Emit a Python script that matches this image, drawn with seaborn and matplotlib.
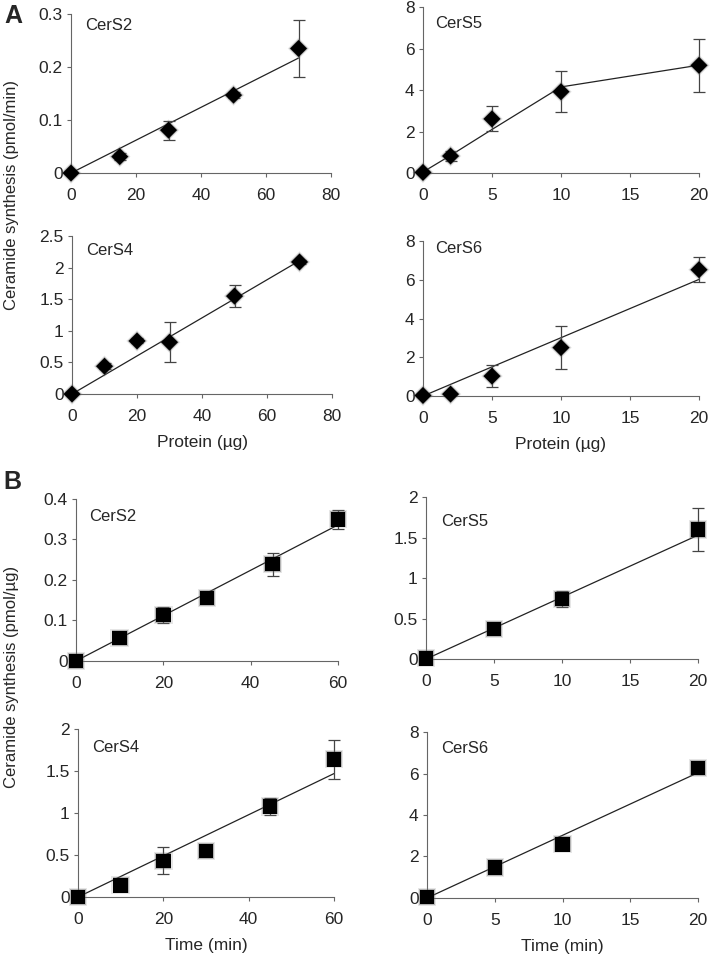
import numpy as np
import pandas as pd
import seaborn as sns
import matplotlib.pyplot as plt
from matplotlib.ticker import FuncFormatter

# ---- data ----
# A: protein titration
a_cers2_x = [0, 15, 30, 50, 70]
a_cers2_y = [0.0, 0.031, 0.081, 0.147, 0.235]
a_cers2_err = [0.0, 0.007, 0.018, 0.006, 0.054]
a_cers2_fit_x = [0, 70]
a_cers2_fit_y = [0.0, 0.217]

a_cers5_x = [0, 2, 5, 10, 20]
a_cers5_y = [0.03, 0.82, 2.61, 3.92, 5.19]
a_cers5_err = [0.0, 0.22, 0.6, 1.0, 1.27]
a_cers5_fit_x = [0, 2, 5, 10, 20]
a_cers5_fit_y = [0.05, 0.85, 2.1, 4.15, 5.2]

a_cers4_x = [0, 10, 20, 30, 50, 70]
a_cers4_y = [0.0, 0.44, 0.84, 0.82, 1.55, 2.09]
a_cers4_err = [0.0, 0.05, 0.04, 0.32, 0.18, 0.03]
a_cers4_fit_x = [0, 70]
a_cers4_fit_y = [0.0, 2.11]

a_cers6_x = [0, 2, 5, 10, 20]
a_cers6_y = [0.03, 0.1, 1.03, 2.5, 6.52]
a_cers6_err = [0.0, 0.0, 0.55, 1.13, 0.65]
a_cers6_fit_x = [0, 20]
a_cers6_fit_y = [0.0, 6.02]

# B: time course
b_cers2_x = [0, 10, 20, 30, 45, 60]
b_cers2_y = [0.0, 0.057, 0.114, 0.155, 0.239, 0.350]
b_cers2_err = [0.0, 0.01, 0.02, 0.005, 0.028, 0.024]
b_cers2_fit_x = [0, 60]
b_cers2_fit_y = [0.0, 0.336]

b_cers5_x = [0, 5, 10, 20]
b_cers5_y = [0.01, 0.37, 0.74, 1.60]
b_cers5_err = [0.0, 0.0, 0.1, 0.26]
b_cers5_fit_x = [0, 20]
b_cers5_fit_y = [0.0, 1.53]

b_cers4_x = [0, 10, 20, 30, 45, 60]
b_cers4_y = [0.0, 0.14, 0.43, 0.55, 1.08, 1.64]
b_cers4_err = [0.0, 0.0, 0.16, 0.0, 0.1, 0.23]
b_cers4_fit_x = [0, 60]
b_cers4_fit_y = [0.0, 1.47]

b_cers6_x = [0, 5, 10, 20]
b_cers6_y = [0.05, 1.47, 2.59, 6.26]
b_cers6_err = [0.0, 0.0, 0.0, 0.0]
b_cers6_fit_x = [0, 20]
b_cers6_fit_y = [0.0, 6.04]

sns.set_style('ticks')
plt.rcParams['font.family'] = ['Liberation Sans', 'DejaVu Sans']
plt.rcParams['font.size'] = 12.5

fig = plt.figure(figsize=(7.11, 9.55), dpi=100)

# name, x, y, err, fit x, fit y, marker, axes rect, xmax, xstep, ymax, ystep, title pos, xlabel
panels = [
    ('CerS2', a_cers2_x, a_cers2_y, a_cers2_err, a_cers2_fit_x, a_cers2_fit_y, 'D',
     [0.0999, 0.8188, 0.3657, 0.1665], 80, 20, 0.3, 0.1, (0.054, 0.93), None),
    ('CerS5', a_cers5_x, a_cers5_y, a_cers5_err, a_cers5_fit_x, a_cers5_fit_y, 'D',
     [0.5949, 0.8188, 0.3882, 0.1738], 20, 5, 8, 2, (0.043, 0.90), None),
    ('CerS4', a_cers4_x, a_cers4_y, a_cers4_err, a_cers4_fit_x, a_cers4_fit_y, 'D',
     [0.1013, 0.5874, 0.3657, 0.1654], 80, 20, 2.5, 0.5, (0.054, 0.91), 'Protein (µg)'),
    ('CerS6', a_cers6_x, a_cers6_y, a_cers6_err, a_cers6_fit_x, a_cers6_fit_y, 'D',
     [0.5949, 0.5853, 0.3882, 0.1623], 20, 5, 8, 2, (0.043, 0.95), 'Protein (µg)'),
    ('CerS2', b_cers2_x, b_cers2_y, b_cers2_err, b_cers2_fit_x, b_cers2_fit_y, 's',
     [0.1069, 0.3079, 0.3685, 0.1696], 60, 20, 0.4, 0.1, (0.05, 0.89), None),
    ('CerS5', b_cers5_x, b_cers5_y, b_cers5_err, b_cers5_fit_x, b_cers5_fit_y, 's',
     [0.5992, 0.3099, 0.3826, 0.1696], 20, 5, 2, 0.5, (0.055, 0.85), None),
    ('CerS4', b_cers4_x, b_cers4_y, b_cers4_err, b_cers4_fit_x, b_cers4_fit_y, 's',
     [0.1097, 0.0607, 0.3601, 0.1759], 60, 20, 2, 0.5, (0.055, 0.89), 'Time (min)'),
    ('CerS6', b_cers6_x, b_cers6_y, b_cers6_err, b_cers6_fit_x, b_cers6_fit_y, 's',
     [0.6006, 0.0597, 0.3812, 0.1738], 20, 5, 8, 2, (0.052, 0.90), 'Time (min)'),
]

fmt = FuncFormatter(lambda v, p: f'{v:g}')

for name, x, y, err, fx, fy, mk, rect, xmax, xstep, ymax, ystep, tpos, xlab in panels:
    ax = fig.add_axes(rect)
    df = pd.DataFrame({'x': x, 'y': y, 'err': err})
    df_fit = pd.DataFrame({'x': fx, 'y': fy})

    sns.lineplot(data=df_fit, x='x', y='y', ax=ax, color='#222222', lw=0.9, zorder=2)
    ax.errorbar(df.x, df.y, yerr=df.err, fmt='none', ecolor='#444444', elinewidth=0.9,
                capsize=4, capthick=0.9, zorder=3, clip_on=False)
    ms = 75 if mk == 'D' else 110
    # soft blur behind the markers, like the printed figure
    sns.scatterplot(data=df, x='x', y='y', ax=ax, marker=mk, s=ms * 1.6, color='#777777',
                    alpha=0.18, edgecolor='none', zorder=4, clip_on=False)
    sns.scatterplot(data=df, x='x', y='y', ax=ax, marker=mk, s=ms * 1.25, color='#555555',
                    alpha=0.35, edgecolor='none', zorder=4, clip_on=False)
    sns.scatterplot(data=df, x='x', y='y', ax=ax, marker=mk, s=ms, color='black',
                    edgecolor='none', zorder=5, clip_on=False)

    ax.set_xlim(0, xmax)
    ax.set_ylim(0, ymax)
    ax.set_xticks(np.arange(0, xmax + xstep / 2, xstep))
    ax.set_yticks(np.arange(0, ymax + ystep / 2, ystep))
    ax.xaxis.set_major_formatter(fmt)
    ax.yaxis.set_major_formatter(fmt)
    ax.tick_params(axis='x', length=3, width=0.8, color='#666666', pad=8, labelsize=12.5)
    ax.tick_params(axis='y', length=3, width=0.8, color='#666666', pad=3, labelsize=12.5)
    for s in ['top', 'right']:
        ax.spines[s].set_visible(False)
    for s in ['left', 'bottom']:
        ax.spines[s].set_color('#666666')
        ax.spines[s].set_linewidth(0.8)
    ax.set_ylabel('')
    ax.set_xlabel(xlab if xlab else '', fontsize=12.5, labelpad=8)
    ax.text(tpos[0], tpos[1], name, transform=ax.transAxes, ha='left', va='center', fontsize=12)

fig.text(12 / 711, 1 - 195 / 955, 'Ceramide synthesis (pmol/min)', rotation=90,
         ha='center', va='center', fontsize=12)
fig.text(12 / 711, 1 - 677 / 955, 'Ceramide synthesis (pmol/µg)', rotation=90,
         ha='center', va='center', fontsize=12)
fig.text(4 / 711, 1 - 16 / 955, 'A', fontsize=18, fontweight='bold', ha='left', va='center')
fig.text(3 / 711, 1 - 482 / 955, 'B', fontsize=18, fontweight='bold', ha='left', va='center')

fig.savefig('out.png', dpi=100)
